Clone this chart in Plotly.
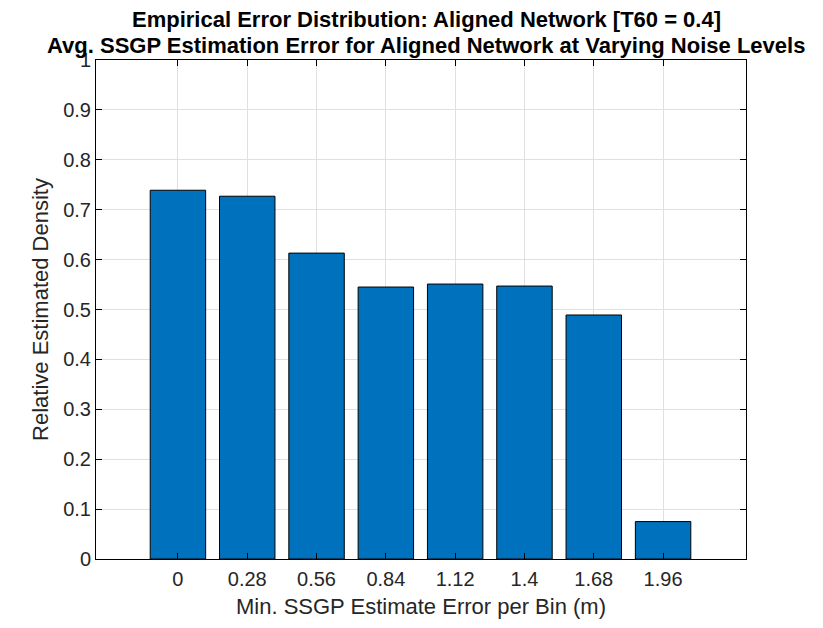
import plotly.graph_objects as go

# bin centres (m) and relative density per bin
bin_centres = [0, 0.28, 0.56, 0.84, 1.12, 1.4, 1.68, 1.96]
bin_labels = ["0", "0.28", "0.56", "0.84", "1.12", "1.4", "1.68", "1.96"]
density = [0.739, 0.727, 0.613, 0.545, 0.551, 0.547, 0.489, 0.075]

y_ticks = [0, 0.1, 0.2, 0.3, 0.4, 0.5, 0.6, 0.7, 0.8, 0.9, 1]
y_tick_labels = ["0", "0.1", "0.2", "0.3", "0.4", "0.5", "0.6", "0.7", "0.8", "0.9", "1"]

title_lines = [
    "Empirical Error Distribution: Aligned Network [T60 = 0.4]",
    "Avg. SSGP Estimation Error for Aligned Network at Varying Noise Levels",
]

text_col = "#262626"
font_family = "Liberation Sans, Arial, sans-serif"

fig = go.Figure()
fig.add_bar(
    x=bin_centres,
    y=density,
    width=0.8 * 0.28,
    marker=dict(color="#0072BD", line=dict(color="black", width=1)),
)

axis_style = dict(
    showline=True,
    linewidth=1,
    linecolor="black",
    mirror="ticks",
    ticks="inside",
    ticklen=6,
    tickcolor="black",
    showgrid=True,
    gridcolor="#E0E0E0",
    gridwidth=1,
    zeroline=False,
    tickfont=dict(size=20, color=text_col, family=font_family),
)

fig.update_xaxes(
    range=[-0.331, 2.295],
    tickvals=bin_centres,
    ticktext=bin_labels,
    ticklabelstandoff=2,
    title=dict(text="Min. SSGP Estimate Error per Bin (m)", font=dict(size=22, color=text_col, family=font_family), standoff=9),
    **axis_style,
)
fig.update_yaxes(
    range=[0, 1],
    tickvals=y_ticks,
    ticktext=y_tick_labels,
    title=dict(text="Relative Estimated Density", font=dict(size=22, color=text_col, family=font_family), standoff=8),
    **axis_style,
)

# two bold title lines placed above the axes
for line, ypos in zip(title_lines, [1.082, 1.030]):
    fig.add_annotation(
        text="<b>" + line + "</b>",
        x=0.5, xref="paper", xanchor="center", xshift=5,
        y=ypos, yref="paper", yanchor="middle",
        showarrow=False,
        font=dict(size=22, color="black", family=font_family),
    )

fig.update_layout(
    width=815,
    height=620,
    margin=dict(l=88, r=77, t=52, b=69),
    plot_bgcolor="white",
    paper_bgcolor="white",
    showlegend=False,
    font=dict(family=font_family, color=text_col),
)

fig.write_html("out.html")
